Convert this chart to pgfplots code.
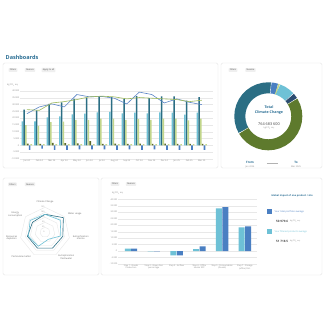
\documentclass[border=0pt]{standalone}
\usepackage{pgfplots}
\pgfplotsset{compat=1.18}
\usepgfplotslibrary{polar}
\usepackage{fontspec}
\setmainfont{Open Sans}
\definecolor{lb}{HTML}{6EC1D6}
\definecolor{dt}{HTML}{2B6E84}
\definecolor{lg}{HTML}{C2D68B}
\definecolor{ol}{HTML}{5A6A2A}
\definecolor{bl}{HTML}{4A7FC2}
\definecolor{linebl}{HTML}{5B85C6}
\definecolor{linegr}{HTML}{9CB95C}
\definecolor{olv}{HTML}{5E7A2D}
\definecolor{navy}{HTML}{2B4C70}
\definecolor{ttl}{HTML}{2A6E94}
\definecolor{tick}{HTML}{888888}
\definecolor{btn}{HTML}{EFEFEF}
\definecolor{panel}{HTML}{E6E6E6}
\newcommand{\fs}[1]{\fontsize{#1}{#1}\selectfont}
\begin{document}
\begin{tikzpicture}[x=1pt,y=1pt]
\fill[white] (0,0) rectangle (325,325);
\useasboundingbox (0,0) rectangle (325,325);
% panels
\draw[panel, line width=0.4pt, rounded corners=1.5pt] (3,157) rectangle (218,262);
\draw[panel, line width=0.4pt, rounded corners=1.5pt] (221,157) rectangle (322,262);
\draw[panel, line width=0.4pt, rounded corners=1.5pt] (3,50) rectangle (99,147);
\draw[panel, line width=0.4pt, rounded corners=1.5pt] (101,50) rectangle (322,147);
% title
\node[anchor=west, font=\fs{5.5}\bfseries, text=ttl, inner sep=0] at (5.5,268) {Dashboards};
% buttons
\tikzset{btnst/.style={fill=btn, rounded corners=0.7pt, font=\fs{2.2}, text=black!70, inner xsep=1.2pt, inner ysep=1.1pt}}
\node[btnst] at (13,255) {Filters};
\node[btnst] at (30,255) {Nuance};
\node[btnst] at (48.5,255) {Apply to all};
\node[btnst] at (233,255) {Filters};
\node[btnst] at (250.5,255) {Nuance};
\node[btnst] at (12.5,140.7) {Filters};
\node[btnst] at (30,140.7) {Nuance};
\node[btnst] at (115,141) {Filters};
\node[btnst] at (131,141) {Nuance};
% y labels
\node[anchor=west, font=\fs{2.2}, text=tick, inner sep=0] at (7,240) {kg CO\textsubscript{2} eq.};
\node[anchor=west, font=\fs{2.2}, text=tick, inner sep=0] at (112,132) {kg CO\textsubscript{2} eq.};

% ---------- Axis 1 ----------
\begin{axis}[
 at={(20pt,166pt)}, anchor=south west, scale only axis,
 width=193pt, height=68pt,
 xmin=-0.55, xmax=14.9, ymin=-10000, ymax=40000,
 scaled y ticks=false,
 axis line style={draw=none}, tick style={draw=none},
 ymajorgrids, grid style={draw=gray!18, line width=0.3pt},
 ytick={-10000,-5000,0,5000,10000,15000,20000,25000,30000,35000,40000},
 yticklabels={-10 000,-5 000,0,5 000,10 000,15 000,20 000,25 000,30 000,35 000,40 000},
 xtick={0,...,14},
 xticklabels={Jan 24,Feb 24,Mar 24,Apr 24,May 24,Jun 24,Jul 24,Aug 24,Sep 24,Oct 24,Nov 24,Dec 24,Jan 25,Feb 25,Mar 25},
 ticklabel style={font=\fs{2.2}, text=tick},
 yticklabel style={inner sep=0.6pt},
 xticklabel style={inner sep=0.6pt},
 clip=false,
]
\addplot[ybar, bar width=1.6pt, bar shift=-4.4pt, fill=lb, draw=none] coordinates {(0,17600)(1,17600)(2,20600)(3,21300)(4,22800)(5,23300)(6,24300)(7,24600)(8,23600)(9,24100)(10,23600)(11,24300)(12,24100)(13,22600)(14,24100)};
\addplot[ybar, bar width=1.6pt, bar shift=-2.7pt, fill=dt, draw=none] coordinates {(0,26300)(1,25800)(2,30500)(3,31700)(4,34200)(5,35000)(6,36200)(7,35500)(8,34200)(9,36200)(10,34700)(11,36000)(12,36000)(13,33000)(14,35500)};
\addplot[ybar, bar width=1.6pt, bar shift=-1.0pt, fill=lg, draw=none] coordinates {(0,14900)(1,14400)(2,17100)(3,17400)(4,18800)(5,18800)(6,19600)(7,19600)(8,18800)(9,19400)(10,18800)(11,19600)(12,19600)(13,18400)(14,19600)};
\addplot[ybar, bar width=1.6pt, bar shift=0.9pt, fill=ol, draw=none] coordinates {(0,1300)(1,1200)(2,1800)(3,1600)(4,1400)(5,3200)(6,1200)(7,1300)(8,1200)(9,1300)(10,1200)(11,1300)(12,1200)(13,1200)(14,1200)};
\addplot[ybar, bar width=1.6pt, bar shift=2.7pt, fill=bl, draw=none] coordinates {(0,-3200)(1,-2300)(2,-3200)(3,-3200)(4,-3000)(5,-3000)(6,-3000)(7,-3200)(8,-3000)(9,-3200)(10,-3000)(11,-3200)(12,-3200)(13,-3200)(14,-3200)};
\addplot[ybar, bar width=1.6pt, bar shift=4.4pt, fill=lg, draw=none] coordinates {(0,1000)(1,1000)(2,1000)(3,1000)(4,1000)(5,1000)(6,1000)(7,1000)(8,1000)(9,1000)(10,1000)(11,1000)(12,1000)(13,1000)(14,1000)};
\addplot[linebl, line width=0.6pt, no marks] coordinates {(0,23300)(1,28300)(2,30500)(3,28300)(4,37400)(5,35700)(6,36000)(7,34700)(8,30500)(9,39200)(10,37400)(11,31200)(12,34200)(13,31700)(14,30000)};
\addplot[linegr, line width=0.6pt, no marks] coordinates {(0,26300)(1,25800)(2,31200)(3,32200)(4,33700)(5,35700)(6,36200)(7,35700)(8,34200)(9,35200)(10,34700)(11,34200)(12,33700)(13,32200)(14,33200)};
\end{axis}

% ---------- Donut ----------
\begin{polaraxis}[
 at={(268.3pt,208.7pt)}, anchor=center, scale only axis,
 width=68pt, height=68pt, ymin=0, ymax=34, hide axis, clip=false]
\addplot[no marks, draw=dt, line width=11pt] coordinates {(-150,28.5)(-160,28.5)(-170,28.5)(-180,28.5)(-190,28.5)(-200,28.5)(-210,28.5)(-220,28.5)(-230,28.5)(-240,28.5)(-250,28.5)(-260,28.5)(-270,28.5)(-275,28.5)};
\addplot[no marks, draw=bl, line width=11pt] coordinates {(85,28.5)(79,28.5)(73,28.5)};
\addplot[no marks, draw=lg, line width=11pt] coordinates {(73,28.5)(70,28.5)};
\addplot[no marks, draw=lb, line width=11pt] coordinates {(70,28.5)(60,28.5)(50,28.5)(42,28.5)};
\addplot[no marks, draw=navy, line width=11pt] coordinates {(42,28.5)(37,28.5)(32,28.5)};
\addplot[no marks, draw=olv, line width=11pt] coordinates {(32,28.5)(20,28.5)(10,28.5)(0,28.5)(-10,28.5)(-20,28.5)(-30,28.5)(-40,28.5)(-50,28.5)(-60,28.5)(-70,28.5)(-80,28.5)(-90,28.5)(-100,28.5)(-110,28.5)(-120,28.5)(-130,28.5)(-140,28.5)(-150,28.5)};
\addplot[no marks, draw=white, line width=0.35pt] coordinates {(-150,22.8)(-150,34.2)};
\addplot[no marks, draw=white, line width=0.35pt] coordinates {(32,22.8)(32,34.2)};
\addplot[no marks, draw=white, line width=0.35pt] coordinates {(42,22.8)(42,34.2)};
\addplot[no marks, draw=white, line width=0.35pt] coordinates {(85,22.8)(85,34.2)};
\end{polaraxis}
\node[font=\fs{3.6}\bfseries, text=ttl, inner sep=0] at (269,218) {Total};
\node[font=\fs{3.6}\bfseries, text=ttl, inner sep=0] at (269,212.5) {Climate Change};
\node[font=\fs{3.8}, text=black!75, inner sep=0] at (269,201) {764 683 600};
\node[font=\fs{2.1}, text=tick, inner sep=0] at (269,196.5) {kg CO\textsubscript{2} eq.};
\node[font=\fs{3}\bfseries, text=ttl, inner sep=0] at (250,163) {From};
\node[font=\fs{2.2}, text=tick, inner sep=0] at (250,158.3) {Jan 2024};
\node[font=\fs{3}\bfseries, text=ttl, inner sep=0] at (296,163) {To};
\node[font=\fs{2.2}, text=tick, inner sep=0] at (296,158.3) {Mar 2025};
\draw[gray!60, line width=0.8pt] (267,161.7) -- (278,161.7);

% ---------- Radar ----------
\begin{polaraxis}[
 at={(45pt,92.7pt)}, anchor=center, scale only axis,
 width=50pt, height=50pt, ymin=0, ymax=1, hide axis, clip=false]
\addplot[no marks, draw=gray!22, line width=0.3pt] coordinates {(90,0.2)(38.57,0.2)(-12.86,0.2)(-64.29,0.2)(-115.71,0.2)(-167.14,0.2)(-218.57,0.2)(-270,0.2)};
\addplot[no marks, draw=gray!22, line width=0.3pt] coordinates {(90,0.4)(38.57,0.4)(-12.86,0.4)(-64.29,0.4)(-115.71,0.4)(-167.14,0.4)(-218.57,0.4)(-270,0.4)};
\addplot[no marks, draw=gray!22, line width=0.3pt] coordinates {(90,0.6)(38.57,0.6)(-12.86,0.6)(-64.29,0.6)(-115.71,0.6)(-167.14,0.6)(-218.57,0.6)(-270,0.6)};
\addplot[no marks, draw=gray!22, line width=0.3pt] coordinates {(90,0.8)(38.57,0.8)(-12.86,0.8)(-64.29,0.8)(-115.71,0.8)(-167.14,0.8)(-218.57,0.8)(-270,0.8)};
\addplot[no marks, draw=gray!22, line width=0.3pt] coordinates {(90,1)(38.57,1)(-12.86,1)(-64.29,1)(-115.71,1)(-167.14,1)(-218.57,1)(-270,1)};
\addplot[no marks, draw=dt, line width=0.6pt] coordinates {(90,0.72)(38.57,0.94)(-12.86,0.73)(-64.29,0.7)(-115.71,0.7)(-167.14,0.72)(-218.57,0.64)(-270,0.72)};
\addplot[no marks, draw=lb, line width=0.6pt] coordinates {(90,0.72)(38.57,0.78)(-12.86,0.65)(-64.29,0.31)(-115.71,0.62)(-167.14,0.68)(-218.57,0.76)(-270,0.72)};
\node[anchor=east, font=\fs{1.9}, text=tick, inner sep=0.4pt] at (axis cs:90,0) {0};
\node[anchor=east, font=\fs{1.9}, text=tick, inner sep=0.4pt] at (axis cs:90,0.2) {25};
\node[anchor=east, font=\fs{1.9}, text=tick, inner sep=0.4pt] at (axis cs:90,0.4) {50};
\node[anchor=east, font=\fs{1.9}, text=tick, inner sep=0.4pt] at (axis cs:90,0.6) {75};
\node[anchor=east, font=\fs{1.9}, text=tick, inner sep=0.4pt] at (axis cs:90,0.8) {100};
\node[anchor=east, font=\fs{1.9}, text=tick, inner sep=0.4pt] at (axis cs:90,1) {125};
\end{polaraxis}
\tikzset{rl/.style={font=\fs{2.3}, text=black!60, align=center, inner sep=0}}
\node[rl] at (45,123.3) {Climate Change};
\node[rl] at (74.7,110.7) {Water usage};
\node[rl] at (80.8,87.3) {Eutrophication\\marine};
\node[rl] at (66.3,68) {Eutrophication\\freshwater};
\node[rl] at (21.3,68.3) {Particulate matter};
\node[rl] at (11.7,87) {Resources\\depletion};
\node[rl] at (15.3,110.5) {Energy\\consumption};

% ---------- Axis 4 ----------
\begin{axis}[
 at={(118pt,61pt)}, anchor=south west, scale only axis,
 width=139pt, height=64.7pt,
 xmin=-0.57, xmax=5.53, ymin=-10000, ymax=40000,
 scaled y ticks=false,
 axis line style={draw=none}, tick style={draw=none},
 ymajorgrids, grid style={draw=gray!18, line width=0.3pt},
 ytick={-10000,-5000,0,5000,10000,15000,20000,25000,30000,35000,40000},
 yticklabels={-10 000,-5 000,0,5 000,10 000,15 000,20 000,25 000,30 000,35 000,40 000},
 xtick={0,...,5},
 xticklabels={{Step 1 - Goods\\Production},{Step 2 - Green Gas\\percentage},{Step 3 - Airflow},{Step 4 - Office\\Heater RFC},{Step 5 - Consumables\\(Goods)},{Step 7 - Storage\\(office) Dist.}},
 ticklabel style={font=\fs{2.1}, text=tick},
 xticklabel style={align=center, inner sep=0.6pt},
 yticklabel style={inner sep=0.6pt},
 clip=false,
]
\addplot[ybar, bar width=6pt, bar shift=-3.2pt, fill=lb, draw=none] coordinates {(0,1800)(1,-300)(2,-3400)(3,1500)(4,33000)(5,18300)};
\addplot[ybar, bar width=6pt, bar shift=3.2pt, fill=bl, draw=none] coordinates {(0,1800)(1,-300)(2,-3400)(3,3600)(4,34000)(5,19100)};
\end{axis}
% legend panel 4
\node[font=\fs{2.4}\bfseries, text=ttl, inner sep=0] at (292.2,129) {Global impact of one product / site};
\fill[bl] (267.3,110.7) rectangle (272.3,116);
\node[anchor=west, font=\fs{2.3}, text=bl, inner sep=0] at (274.5,113.3) {Your total portfolio average};
\node[anchor=west, font=\fs{3}\bfseries, text=black!70, inner sep=0] at (276,103.3) {50 979.6};
\node[anchor=west, font=\fs{2}, text=tick, inner sep=0] at (290,103.3) {kg CO\textsubscript{2} eq.};
\fill[lb] (267.3,90.7) rectangle (272.3,96);
\node[anchor=west, font=\fs{2.3}, text=lb, inner sep=0] at (274.5,93.3) {Your filtered products average};
\node[anchor=west, font=\fs{3}\bfseries, text=black!70, inner sep=0] at (276,83.3) {51 718.5};
\node[anchor=west, font=\fs{2}, text=tick, inner sep=0] at (290,83.3) {kg CO\textsubscript{2} eq.};
\end{tikzpicture}
\end{document}
